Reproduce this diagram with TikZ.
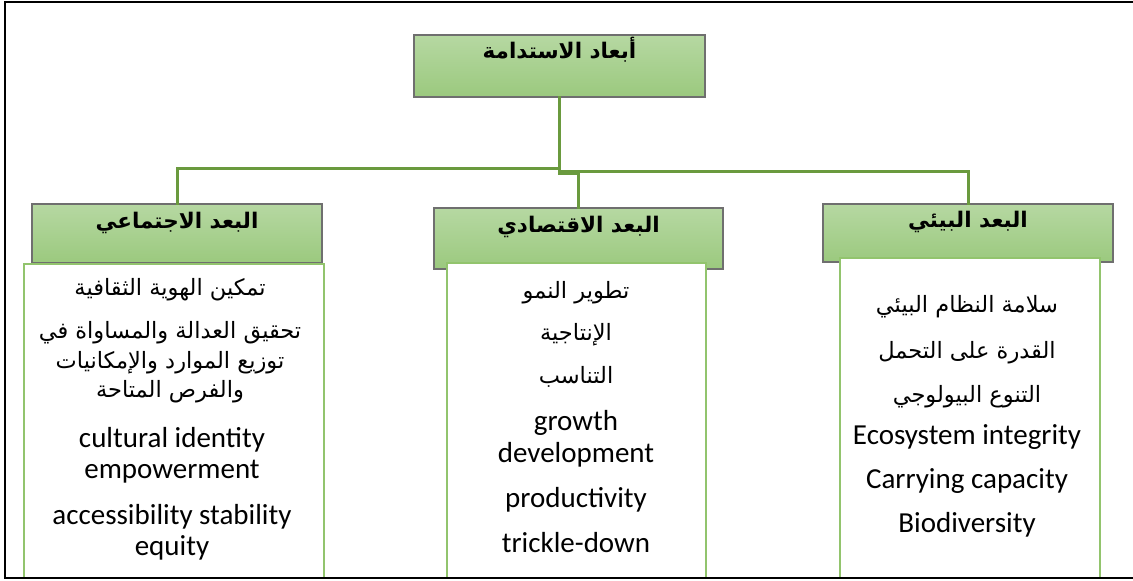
\documentclass[tikz,border=0pt]{standalone}
\usepackage{fontspec}
\setmainfont{Carlito}
\newfontfamily\arabicfont[Script=Arabic]{DejaVu Sans}
\TeXXeTstate=1
\usepackage{tikz}
\usetikzlibrary{calc}
\definecolor{hdrgray}{HTML}{6F6F6F}
\definecolor{hdrtop}{HTML}{B6D8A2}
\definecolor{hdrbot}{HTML}{9BC97E}
\definecolor{listgreen}{HTML}{92C46D}
\definecolor{conngreen}{HTML}{6A9A3E}
\tikzset{
  hdrbox/.style={draw=hdrgray,line width=1.2pt,top color=hdrtop,bottom color=hdrbot,inner sep=0pt},
  listbox/.style={draw=listgreen,line width=1.2pt,fill=white,inner sep=0pt},
  conn/.style={draw=conngreen,line width=3pt},
  hdrtxt/.style={font=\arabicfont\bfseries\fontsize{21.5}{24}\selectfont},
  artxt/.style={font=\arabicfont\fontsize{22.5}{26}\selectfont},
  entxt/.style={font=\fontsize{29}{32}\selectfont}
}
\begin{document}
\begin{tikzpicture}[x=1pt,y=-1pt,line cap=rect]
\useasboundingbox (0,0) rectangle (1133,581);
\node[hdrbox,minimum width=291pt,minimum height=62pt] (title) at (559.5,66) {};
\node[hdrbox,minimum width=290pt,minimum height=59pt] (socHdr) at (177,233.5) {};
\node[hdrbox,minimum width=289pt,minimum height=61pt] (ecoHdr) at (578.5,238.5) {};
\node[hdrbox,minimum width=290pt,minimum height=58pt] (envHdr) at (968,233) {};
\node[listbox,minimum width=300pt,minimum height=314pt] (socList) at (174,421) {};
\node[listbox,minimum width=259pt,minimum height=315pt] (ecoList) at (576.5,420.5) {};
\node[listbox,minimum width=260pt,minimum height=320pt] (envList) at (970,418) {};
\coordinate (hubL) at (559.5,168);
\coordinate (hubR) at (559.5,171);
\coordinate (hubM) at (559.5,173);
\draw[conn] (title.south) -- (hubM);
\draw[conn] (title.south) -- (hubL) -| (socHdr.north);
\draw[conn] (hubR) -| (envHdr.north);
\draw[conn] (hubM) -| (ecoHdr.north);
\node[hdrtxt] (titleTxt) at (559.5,50) {\beginR أبعاد الاستدامة\endR};
\node[hdrtxt] (socTxt) at (177,223) {\beginR البعد الاجتماعي\endR};
\node[hdrtxt] (ecoTxt) at (578.5,227) {\beginR البعد الاقتصادي\endR};
\node[hdrtxt] (envTxt) at (968,222) {\beginR البعد البيئي\endR};
\node[artxt] (socA) at (170,290) {\beginR تمكين الهوية الثقافية\endR};
\node[artxt] (socB) at (170,333) {\beginR تحقيق العدالة والمساواة في\endR};
\node[artxt] (socC) at (170,363) {\beginR توزيع الموارد والإمكانيات\endR};
\node[artxt] (socD) at (170,392) {\beginR والفرص المتاحة\endR};
\node[entxt] (socE) at (172,440) {cultural identity};
\node[entxt] (socF) at (172,472) {empowerment};
\node[entxt] (socG) at (172,517) {accessibility stability};
\node[entxt] (socH) at (172,548) {equity};
\node[artxt] (ecoA) at (576,293) {\beginR تطوير النمو\endR};
\node[artxt] (ecoB) at (576,335) {\beginR الإنتاجية\endR};
\node[artxt] (ecoC) at (576,377) {\beginR التناسب\endR};
\node[entxt] (ecoD) at (576,423) {growth};
\node[entxt] (ecoE) at (576,455) {development};
\node[entxt] (ecoF) at (576,500) {productivity};
\node[entxt] (ecoG) at (576,543) {trickle-down};
\node[artxt] (envA) at (967,307) {\beginR سلامة النظام البيئي\endR};
\node[artxt] (envB) at (967,353) {\beginR القدرة على التحمل\endR};
\node[artxt] (envC) at (967,397) {\beginR التنوع البيولوجي\endR};
\node[entxt] (envD) at (967,437) {Ecosystem integrity};
\node[entxt] (envE) at (967,481) {Carrying capacity};
\node[entxt] (envF) at (967,525) {Biodiversity};
\draw[line width=2.4pt] (1133,2) -- (5,2) -- (5,578) -- (1133,578);
\end{tikzpicture}
\end{document}
